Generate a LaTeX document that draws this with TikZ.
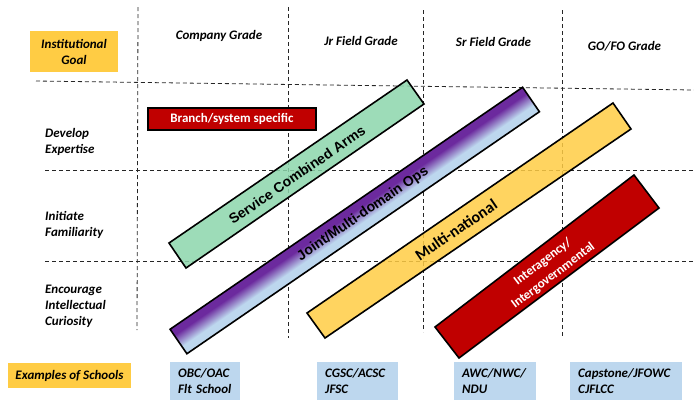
\documentclass[tikz,border=0pt]{standalone}
\usepackage{fontspec}
\setmainfont{Carlito}
\newfontfamily\arialf{Liberation Sans}
\definecolor{gold}{HTML}{FFCC44}
\definecolor{lblue}{HTML}{BDD7EE}
\definecolor{mint}{HTML}{8CD6AB}
\definecolor{pur}{HTML}{6C2A9E}
\definecolor{dred}{HTML}{C00000}
\pgfdeclareverticalshading{purpleblue}{100bp}{color(0bp)=(lblue); color(40bp)=(lblue); color(63bp)=(pur); color(100bp)=(pur)}
\begin{document}
\begin{tikzpicture}[x=1pt,y=1pt,
  grid/.style={black!85, line width=0.8pt, dash pattern=on 4pt off 3pt},
  lbl/.style={font=\fontsize{13}{16}\selectfont\bfseries\itshape, inner sep=0pt, align=left, anchor=west},
  hdr/.style={font=\fontsize{13}{16}\selectfont\bfseries\itshape, inner sep=0pt},
  goldbox/.style={fill=gold, font=\fontsize{13}{16}\selectfont\bfseries\itshape, inner sep=0pt, align=center},
  school/.style={fill=lblue, anchor=north west, minimum height=38pt, inner xsep=8pt, inner ysep=0pt, align=left, font=\fontsize{13}{16}\selectfont\bfseries\itshape},
  bar/.style={draw=black, line width=1.6pt, line join=miter},
]
\useasboundingbox (0,0) rectangle (694,-400);

% grid
\draw[grid] (36,-81) -- (694,-90);
\draw[grid] (45,-170) -- (694,-170);
\draw[grid] (45,-261) -- (694,-261);
\draw[grid] (138,-7) -- (137,-330);
\draw[grid] (288,-7) -- (288,-338);
\draw[grid] (423,-10) -- (423,-332);
\draw[grid] (562,-10) -- (562,-338);

% headers
\node[goldbox, minimum width=88pt, minimum height=41pt] (ig) at (74,-51.5) {Institutional\\Goal};
\node[hdr] (cg) at (219,-36) {Company Grade};
\node[hdr] (jf) at (361,-41) {Jr Field Grade};
\node[hdr] (sf) at (493.5,-42) {Sr Field Grade};
\node[hdr] (go) at (624.5,-46) {GO/FO Grade};

% row labels
\node[lbl] (dev) at (45,-142) {Develop\\Expertise};
\node[lbl] (ini) at (45,-225) {Initiate\\Familiarity};
\node[lbl] (enc) at (45,-306) {Encourage\\Intellectual\\Curiosity};

% branch box
\node[fill=dred, draw=black, line width=1.6pt, minimum width=168pt, minimum height=22.5pt, inner sep=0pt, text=white, font=\fontsize{13}{16}\selectfont\bfseries] (bss) at (232,-119) {Branch/system specific};

% bars
\filldraw[bar, fill=mint, fill opacity=0.85] (407,-80) -- (424,-104) -- (186,-268) -- (169,-243) -- cycle;
\begin{scope}[transform canvas={shift={(354.75,-220.5)},rotate=34.47}]
  \shade[shading=purpleblue] (-213.8,-14.85) rectangle (213.8,14.85);
  \draw[bar] (-213.8,-14.85) rectangle (213.8,14.85);
\end{scope}
\filldraw[bar, fill=gold, fill opacity=0.85] (613,-103) -- (631,-129) -- (325,-338) -- (307,-313) -- cycle;
\filldraw[bar, fill=dred] (634,-175) -- (659,-208) -- (459,-358) -- (435,-327) -- cycle;

% bar texts
\node[rotate=34.5, inner sep=0pt, font=\arialf\fontsize{14}{16}\selectfont\bfseries] (sca) at (297,-175) {Service Combined Arms};
\node[rotate=34.47, inner sep=0pt, font=\arialf\fontsize{14}{16}\selectfont\bfseries] (jmo) at (363,-214) {Joint/Multi-domain Ops};
\node[rotate=34.4, inner sep=0pt, font=\fontsize{16}{19}\selectfont\bfseries] (mn) at (456,-230) {Multi-national};
\node[rotate=37.1, inner sep=0pt, text=white, align=center, font=\fontsize{13}{17}\selectfont\bfseries] (iig) at (548,-269) {Interagency/\\Intergovernmental};

% schools
\node[goldbox, minimum width=123pt, minimum height=25pt] (eos) at (69.5,-375.5) {Examples of Schools};
\node[school, text width=54pt] (obc) at (170,-362) {OBC/OAC\\Flt School};
\node[school, text width=65pt] (cgsc) at (317,-362) {CGSC/ACSC\\JFSC};
\node[school, text width=66pt] (awc) at (454,-362) {AWC/NWC/\\NDU};
\node[school, text width=96pt] (cap) at (570,-362) {Capstone/JFOWC\\CJFLCC};
\end{tikzpicture}
\end{document}
